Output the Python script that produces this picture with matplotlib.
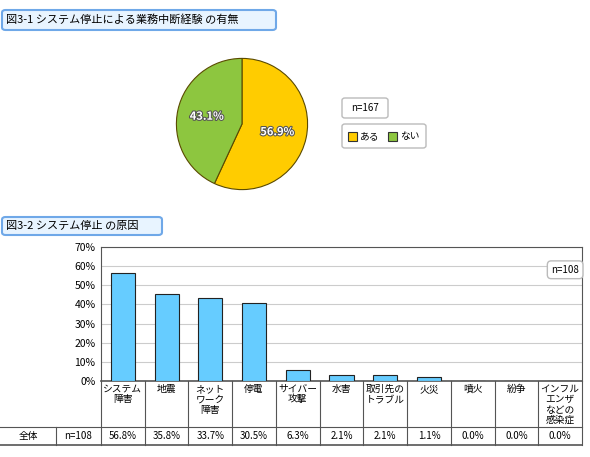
import matplotlib
matplotlib.use("Agg")
import matplotlib.pyplot as plt
import matplotlib.patheffects as pe
from matplotlib.patches import FancyBboxPatch, Rectangle
from matplotlib.lines import Line2D
import numpy as np

plt.rcParams['font.family'] = ['Noto Sans CJK JP', 'DejaVu Sans']

pie_labels = ["ある", "ない"]
pie_values = [56.9, 43.1]
pie_colors = ["#FFCC00", "#8DC63F"]

categories = ["システム\n障害", "地震", "ネット\nワーク\n障害", "停電", "サイバー\n攻撃", "水害",
              "取引先の\nトラブル", "火災", "噴火", "紛争", "インフル\nエンザ\nなどの\n感染症"]
bar_heights = [56.3, 45.5, 43.5, 40.5, 6.0, 3.0, 3.0, 2.0, 0.0, 0.0, 0.0]
table_values = ["56.8%", "35.8%", "33.7%", "30.5%", "6.3%", "2.1%", "2.1%", "1.1%", "0.0%", "0.0%", "0.0%"]
yticks = [0, 10, 20, 30, 40, 50, 60, 70]

W, H = 590, 457
fig = plt.figure(figsize=(W/100, H/100), dpi=100)

def px(x, y, w, h):
    return [x/W, 1-(y+h)/H, w/W, h/H]

def title_box(x, y, w, h, text):
    p = FancyBboxPatch((x/W, 1-(y+h)/H), w/W, h/H, boxstyle="round,pad=0,rounding_size=0.006",
                       transform=fig.transFigure, facecolor="#E8F4FF", edgecolor="#6FA8E8", lw=1.5)
    fig.patches.append(p)
    fig.text((x+4)/W, 1-(y+h/2)/H, text, fontsize=8, va="center", ha="left")

title_box(2, 10, 274, 20, "図3-1 システム停止による業務中断経験 の有無")
title_box(2, 217, 160, 18, "図3-2 システム停止 の原因")

# pie
ax = fig.add_axes(px(160, 42, 164, 164))
wedges, texts = ax.pie(pie_values, colors=pie_colors, startangle=90, counterclock=False,
                       wedgeprops=dict(edgecolor="#5A4A00", linewidth=0.8))
for w, v in zip(wedges, pie_values):
    ang = np.deg2rad((w.theta1 + w.theta2)/2)
    ax.text(0.55*np.cos(ang), 0.55*np.sin(ang), f"{v}%", ha="center", va="center",
            fontsize=8, color="white", fontweight="bold",
            path_effects=[pe.withStroke(linewidth=1.5, foreground="#555555")])
ax.set_aspect("equal")

# legend boxes
for (x, y, w, h) in [(342, 98, 46, 20), (342, 124, 84, 24)]:
    fig.patches.append(FancyBboxPatch((x/W, 1-(y+h)/H), w/W, h/H, boxstyle="round,pad=0,rounding_size=0.005",
                       transform=fig.transFigure, facecolor="white", edgecolor="#BBBBBB", lw=1))
fig.text(365/W, 1-108/H, "n=167", fontsize=7, ha="center", va="center")
for i, (lab, c) in enumerate(zip(pie_labels, pie_colors)):
    x0 = 348 + i*40
    fig.patches.append(Rectangle((x0/W, 1-141/H), 9/W, 9/H, transform=fig.transFigure,
                                 facecolor=c, edgecolor="#333333", lw=0.8))
    fig.text((x0+12)/W, 1-136/H, lab, fontsize=7, va="center")

# bar chart
left, right, top, bottom = 101, 582, 247, 381
ax2 = fig.add_axes(px(left, top, right-left, bottom-top))
n = len(categories)
xs = list(range(n))
ax2.bar(xs, bar_heights, width=0.55, color="#66CCFF", edgecolor="#222222", linewidth=0.8, zorder=3)
ax2.set_xlim(-0.5, n-0.5)
ax2.set_ylim(0, 70)
ax2.set_yticks(yticks)
ax2.set_yticklabels([f"{t}%" for t in yticks], fontsize=7.5)
ax2.tick_params(length=0, pad=4)
ax2.set_xticks([])
ax2.grid(axis="y", color="#CCCCCC", lw=0.8, zorder=0)
for s in ax2.spines.values():
    s.set_color("#555555")
ax2.spines["bottom"].set_linewidth(1.2)
ax2.text(0.965, 0.83, "n=108", transform=ax2.transAxes, fontsize=7, ha="center", va="center",
         bbox=dict(boxstyle="round,pad=0.4", fc="white", ec="#BBBBBB"))

# table
colw = (right-left)/n
y_mid = 427
y_end = 445
def hline(y, x0, x1, c="#555555", lw=0.8):
    fig.add_artist(Line2D([x0/W, x1/W], [1-y/H, 1-y/H], color=c, lw=lw))
def vline(x, y0, y1, c="#555555", lw=0.8):
    fig.add_artist(Line2D([x/W, x/W], [1-y0/H, 1-y1/H], color=c, lw=lw))
hline(y_mid, 0, right)
hline(y_end, 0, right, lw=1.2)
vline(56, y_mid, y_end)
for i in range(n+1):
    vline(left + i*colw, bottom, y_end)
fig.text(28/W, 1-436/H, "全体", fontsize=7, ha="center", va="center")
fig.text(78/W, 1-436/H, "n=108", fontsize=7, ha="center", va="center")
for i, (cat, v) in enumerate(zip(categories, table_values)):
    cx = left + (i+0.5)*colw
    fig.text(cx/W, 1-384/H, cat, fontsize=7, ha="center", va="top", linespacing=1.05)
    fig.text(cx/W, 1-436/H, v, fontsize=7, ha="center", va="center")

fig.savefig("out.png", dpi=100)
